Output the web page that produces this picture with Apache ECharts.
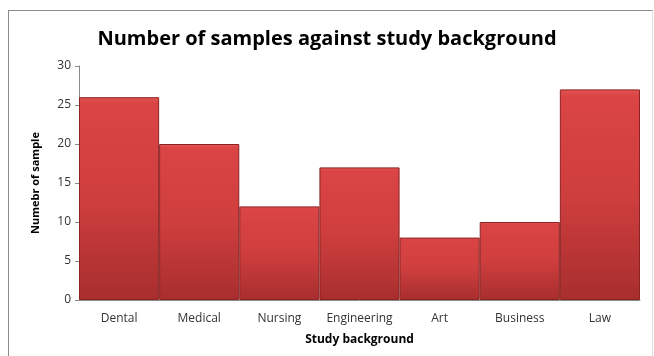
<!DOCTYPE html>
<html>
<head>
<meta charset="utf-8">
<script src="https://cdn.jsdelivr.net/npm/echarts@6/dist/echarts.min.js"></script>
<style>
  html, body { margin: 0; padding: 0; background: #fff; }
  #frame { position: absolute; left: 8px; top: 10px; width: 643px; height: 360px; border-left: 1px solid #8a8a8a; border-top: 1px solid #8a8a8a; border-right: 1px solid #e0e0e0; }
  #chart { position: absolute; left: 0; top: 0; width: 654px; height: 356px; }
</style>
</head>
<body>
<div id="frame"></div>
<div id="chart"></div>
<script>
// 数据
const categories = ['Dental', 'Medical', 'Nursing', 'Engineering', 'Art', 'Business', 'Law'];
const sampleCounts = [26, 20, 12, 17, 8, 10, 27];

const chart = echarts.init(document.getElementById('chart'), null, { renderer: 'canvas' });

const option = {
    animation: false,
    title: {
        text: 'Number of samples against study background',
        left: 'center',
        top: 24,
        textStyle: { fontFamily: 'Open Sans', fontSize: 20, fontWeight: 'bold', color: '#000' }
    },
    grid: { left: 79, right: 14, top: 66, bottom: 56 },
    xAxis: {
        type: 'category',
        data: categories,
        name: 'Study background',
        nameLocation: 'middle',
        nameGap: 34,
        nameTextStyle: { fontFamily: 'Open Sans', fontSize: 12, fontWeight: 'bold', color: '#000' },
        axisLine: { lineStyle: { color: '#8a8a8a' } },
        axisTick: { show: false },
        axisLabel: { interval: 0, fontFamily: 'Open Sans', fontSize: 12, color: '#333', margin: 13 }
    },
    yAxis: {
        type: 'value',
        min: 0,
        max: 30,
        interval: 5,
        name: 'Numebr of sample',
        nameLocation: 'middle',
        nameGap: 38,
        nameTextStyle: { fontFamily: 'Open Sans', fontSize: 11, fontWeight: 'bold', color: '#000' },
        splitLine: { show: false },
        axisLine: { show: true, lineStyle: { color: '#8a8a8a' } },
        axisTick: { show: true, inside: false, length: 4, lineStyle: { color: '#8a8a8a' } },
        axisLabel: { fontFamily: 'Open Sans', fontSize: 12, color: '#333', margin: 8 }
    },
    series: [{
        type: 'bar',
        data: sampleCounts,
        barCategoryGap: '0%',
        itemStyle: {
            color: new echarts.graphic.LinearGradient(0, 0, 0, 1, [
                { offset: 0, color: '#e45555' },
                { offset: 0.03, color: '#da4444' },
                { offset: 0.5, color: '#cf3e3e' },
                { offset: 1, color: '#a82e2e' }
            ]),
            borderColor: '#8c2222',
            borderWidth: 1
        }
    }]
};

chart.setOption(option);
</script>
</body>
</html>
